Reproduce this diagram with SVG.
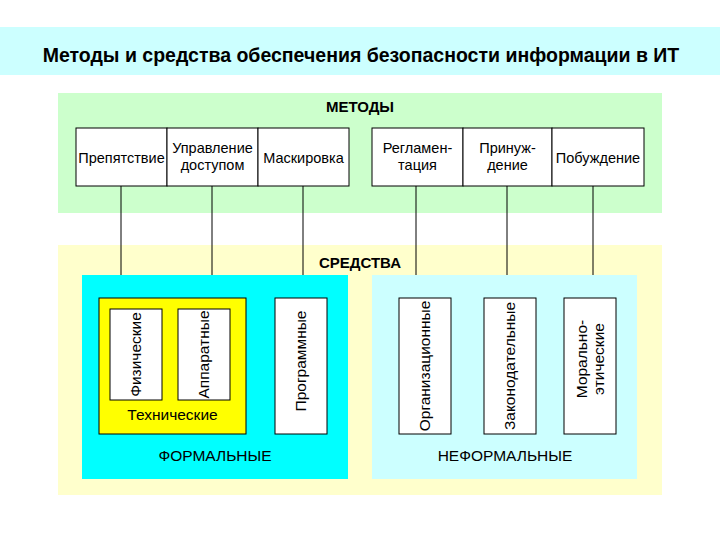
<svg xmlns="http://www.w3.org/2000/svg" width="720" height="540" viewBox="0 0 720 540">
<style>
text{font-family:"Liberation Sans",Arial,sans-serif;font-size:14.5px;fill:#000;text-anchor:middle}
.b{fill:#fff;stroke:#000;stroke-width:1}
.h{font-weight:bold;font-size:15px}
.v{font-size:15.5px}
.l{font-size:15.5px}
line{stroke:#000;stroke-width:1}
</style>
<rect x="0" y="0" width="720" height="540" fill="#fff"/>
<rect x="0" y="27" width="720" height="48" fill="#ccffff"/>
<text x="361" y="62" style="font-weight:bold;font-size:19.5px">Методы и средства обеспечения безопасности информации в ИТ</text>
<g id="methods">
<rect x="58" y="93" width="604" height="120" fill="#ccffcc"/>
<text class="h" x="360" y="112">МЕТОДЫ</text>
</g>
<g id="means">
<rect x="58" y="245" width="604" height="250" fill="#ffffcc"/>
<text class="h" x="360" y="268">СРЕДСТВА</text>
</g>
<g id="connectors">
<line x1="121" y1="186" x2="121" y2="275"/>
<line x1="212" y1="186" x2="212" y2="275"/>
<line x1="303" y1="186" x2="303" y2="275"/>
<line x1="416" y1="186" x2="416" y2="275"/>
<line x1="507" y1="186" x2="507" y2="275"/>
<line x1="593" y1="186" x2="593" y2="275"/>
</g>
<g id="m1"><rect class="b" x="76" y="128" width="91" height="58"/><text x="121.5" y="163">Препятствие</text></g>
<g id="m2"><rect class="b" x="167" y="128" width="91" height="58"/><text x="212.5" y="153">Управление</text><text x="212.5" y="170">доступом</text></g>
<g id="m3"><rect class="b" x="258" y="128" width="91" height="58"/><text x="303.5" y="163">Маскировка</text></g>
<g id="m4"><rect class="b" x="372" y="128" width="91" height="58"/><text x="417.5" y="153">Регламен-</text><text x="417.5" y="170">тация</text></g>
<g id="m5"><rect class="b" x="463" y="128" width="89" height="58"/><text x="507.5" y="153">Принуж-</text><text x="507.5" y="170">дение</text></g>
<g id="m6"><rect class="b" x="552" y="128" width="92" height="58"/><text x="598" y="163">Побуждение</text></g>
<g id="formal">
<rect x="82" y="275" width="266" height="204" fill="#00ffff"/>
<text class="l" x="215" y="461">ФОРМАЛЬНЫЕ</text>
</g>
<g id="informal">
<rect x="372" y="275" width="265" height="204" fill="#ccffff"/>
<text class="l" x="505" y="461">НЕФОРМАЛЬНЫЕ</text>
</g>
<g id="tech">
<rect x="99" y="298" width="147" height="136" fill="#ffff00" stroke="#000"/>
<text class="l" x="172.5" y="420">Технические</text>
</g>
<g id="phys"><rect class="b" x="110" y="309" width="52" height="91"/><text class="v" transform="translate(141,354.5) rotate(-90)">Физические</text></g>
<g id="hw"><rect class="b" x="178" y="309" width="52" height="91"/><text class="v" transform="translate(209,354.5) rotate(-90)">Аппаратные</text></g>
<g id="sw"><rect class="b" x="275" y="298" width="52" height="136"/><text class="v" transform="translate(306,361) rotate(-90)">Программные</text></g>
<g id="org"><rect class="b" x="399" y="298" width="52" height="136"/><text class="v" transform="translate(430,366) rotate(-90)">Организационные</text></g>
<g id="law"><rect class="b" x="484" y="298" width="52" height="136"/><text class="v" transform="translate(515,366) rotate(-90)">Законодательные</text></g>
<g id="moral"><rect class="b" x="564" y="298" width="52" height="136"/><text class="v" transform="translate(587,359) rotate(-90)">Морально-</text><text class="v" transform="translate(604,359) rotate(-90)">этические</text></g>
</svg>
